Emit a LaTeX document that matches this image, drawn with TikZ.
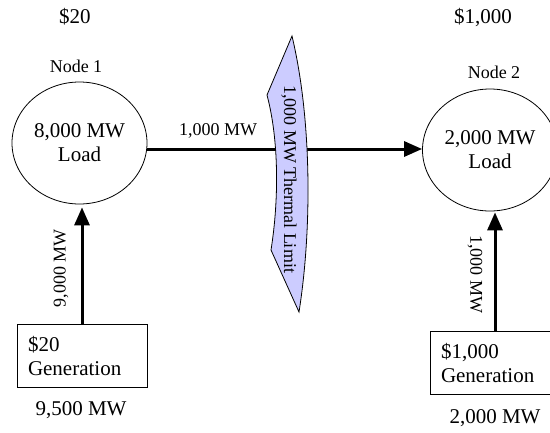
\documentclass[tikz,border=0pt]{standalone}
\usepackage{fontspec}
\setmainfont{Liberation Serif}
\usetikzlibrary{shapes.geometric,arrows.meta}
\begin{document}
\begin{tikzpicture}[x=1pt,y=-1pt,
  big/.style={font=\fontsize{21}{24}\selectfont, inner sep=0pt},
  small/.style={font=\fontsize{18}{20}\selectfont, inner sep=0pt},
  bus/.style={draw, ellipse, line width=0.8pt, minimum width=135pt, minimum height=122pt,
    align=center, font=\fontsize{21}{24}\selectfont, inner sep=0pt},
  genbox/.style={draw, line width=0.8pt, minimum width=130pt, minimum height=63pt,
    text width=108pt, align=left, font=\fontsize{21}{24}\selectfont, inner sep=0pt},
  flow/.style={line width=3pt, -{Triangle[length=18pt,width=15pt]}},
  banner/.style={draw, line width=0.8pt, fill=bannerfill}]
\definecolor{bannerfill}{RGB}{204,204,255}
\useasboundingbox (0,0) rectangle (550,432);
\clip (0,0) rectangle (550,432);

% prices
\node[big] (price1) at (75,17) {\$20};
\node[big] (price2) at (483,18) {\$1,000};

% node labels
\node[small] (lab1) at (76,66) {Node 1};
\node[small] (lab2) at (494,72) {Node 2};

% buses
\node[bus] (n1) at (79.5,143) {8,000 MW\\Load};
\node[bus] (n2) at (490,150) {2,000 MW\\Load};

% generators
\node[genbox] (g1) at (82,355.5) {\$20\\Generation};
\node[genbox] (g2) at (495,363) {\$1,000\\Generation};
\node[big] (out1) at (81,410) {9,500 MW};
\node[big] (out2) at (495,418) {2,000 MW};

% flows
\coordinate (hstart) at ([yshift=-6pt]n1.east);
\draw[flow] (hstart) -- (hstart -| n2.west);
\draw[flow, shorten >=3pt] (g1.north) -- (g1.north |- n1.south);
\draw[flow, shorten >=1pt] (g2.north) -- (g2.north |- n2.south);

\node[small] (f12) at (218,131) {1,000 MW};
\node[small, rotate=90] (f1) at (61,268) {9,000 MW};
\node[small, rotate=-90] (f2) at (475,274) {1,000 MW};

% thermal limit banner
\draw[banner] (292,36) .. controls (312,120) and (312,230) .. (299,312)
  -- (271,250) .. controls (279,200) and (279,140) .. (267,95) -- cycle;
\node[small, rotate=-90] (limit) at (289,179) {1,000 MW Thermal Limit};
\end{tikzpicture}
\end{document}
